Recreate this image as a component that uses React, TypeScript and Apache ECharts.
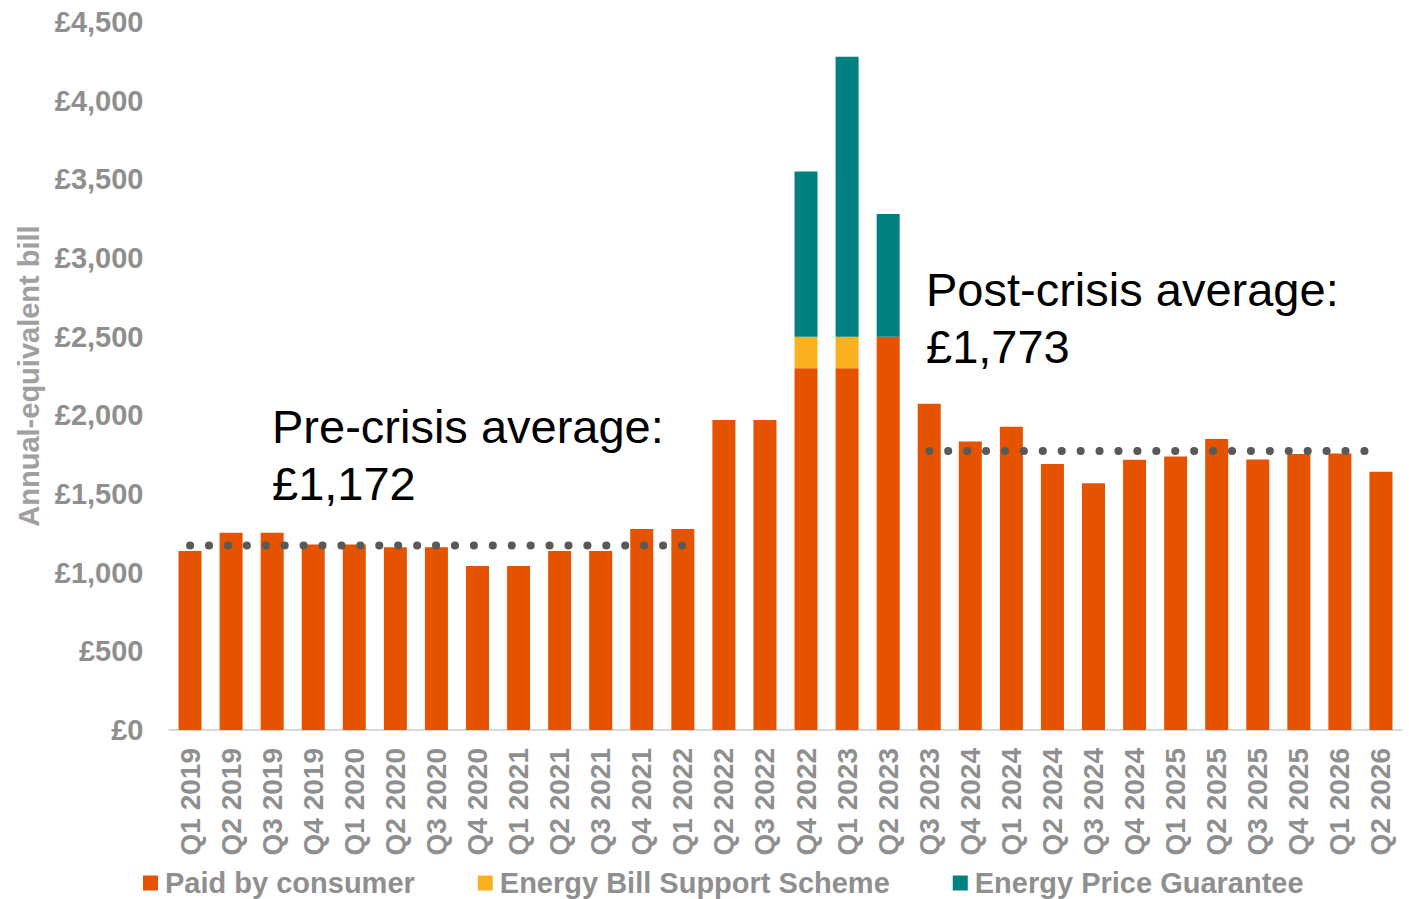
import React, { useEffect, useRef } from "react";
import * as echarts from "echarts";

const categories = [
  "Q1 2019", "Q2 2019", "Q3 2019", "Q4 2019",
  "Q1 2020", "Q2 2020", "Q3 2020", "Q4 2020",
  "Q1 2021", "Q2 2021", "Q3 2021", "Q4 2021",
  "Q1 2022", "Q2 2022", "Q3 2022", "Q4 2022",
  "Q1 2023", "Q2 2023", "Q3 2023", "Q4 2024",
  "Q1 2024", "Q2 2024", "Q3 2024", "Q4 2024",
  "Q1 2025", "Q2 2025", "Q3 2025", "Q4 2025",
  "Q1 2026", "Q2 2026",
];

const paidByConsumer = [
  1137, 1254, 1254, 1179, 1179, 1162, 1162, 1042, 1042, 1138, 1138, 1277,
  1277, 1971, 1971, 2300, 2300, 2500, 2074, 1834, 1928, 1690, 1568, 1717,
  1738, 1849, 1720, 1755, 1758, 1641,
];

const energyBillSupport = [
  0, 0, 0, 0, 0, 0, 0, 0, 0, 0, 0, 0,
  0, 0, 0, 200, 200, 0, 0, 0, 0, 0, 0, 0,
  0, 0, 0, 0, 0, 0,
];

const energyPriceGuarantee = [
  0, 0, 0, 0, 0, 0, 0, 0, 0, 0, 0, 0,
  0, 0, 0, 1049, 1779, 780, 0, 0, 0, 0, 0, 0,
  0, 0, 0, 0, 0, 0,
];

const preCrisisAverage = 1172;
const postCrisisAverage = 1773;
const preCrisisRange = [0, 12];
const postCrisisRange = [18, 29];

const yTicks = { min: 0, max: 4500, interval: 500 };

const FONT = "'Liberation Sans', Arial, sans-serif";
const GREY = "#8f8f8f";

function averageLine(value: number, range: number[]) {
  return categories.map((_, i) => (i >= range[0] && i <= range[1] ? value : null));
}

export default function App() {
  const ref = useRef<HTMLDivElement>(null);

  useEffect(() => {
    if (!ref.current) return;
    const chart = echarts.init(ref.current, undefined, { renderer: "svg" });
    const dotted = {
      color: "#595959",
      width: 8,
      type: [0.1, 18.82],
      cap: "round",
    };
    chart.setOption({
      animation: false,
      textStyle: { fontFamily: FONT },
      grid: { left: 169.5, right: 7.5, top: 22, bottom: 169, containLabel: false },
      legend: {
        data: ["Paid by consumer", "Energy Bill Support Scheme", "Energy Price Guarantee"],
        left: 143,
        top: 866,
        padding: 0,
        icon: "rect",
        itemWidth: 15,
        itemHeight: 15,
        itemGap: 63,
        textStyle: {
          color: GREY,
          fontSize: 29,
          lineHeight: 34,
          fontWeight: "bold",
          fontFamily: FONT,
          padding: [0, 0, 0, 2],
        },
      },
      xAxis: {
        type: "category",
        data: categories,
        axisLine: { lineStyle: { color: "#d9d9d9", width: 2 } },
        axisTick: { show: false },
        axisLabel: {
          rotate: 90,
          interval: 0,
          margin: 18,
          color: GREY,
          fontSize: 28,
          fontWeight: "bold",
          fontFamily: FONT,
        },
      },
      yAxis: {
        type: "value",
        min: yTicks.min,
        max: yTicks.max,
        interval: yTicks.interval,
        name: "Annual-equivalent bill",
        nameLocation: "middle",
        nameGap: 125,
        nameTextStyle: { color: "#a0a0a0", fontSize: 29, fontWeight: "bold", fontFamily: FONT },
        splitLine: { show: false },
        axisLine: { show: false },
        axisTick: { show: false },
        axisLabel: {
          margin: 26,
          color: GREY,
          fontSize: 29,
          fontWeight: "bold",
          fontFamily: FONT,
          formatter: (v: number) => "£" + v.toLocaleString("en-GB"),
        },
      },
      series: [
        {
          name: "Paid by consumer",
          type: "bar",
          stack: "bill",
          data: paidByConsumer,
          barWidth: "56%",
          itemStyle: { color: "#E55300" },
        },
        {
          name: "Energy Bill Support Scheme",
          type: "bar",
          stack: "bill",
          data: energyBillSupport,
          itemStyle: { color: "#F9B121" },
        },
        {
          name: "Energy Price Guarantee",
          type: "bar",
          stack: "bill",
          data: energyPriceGuarantee,
          itemStyle: { color: "#008080" },
        },
        {
          name: "Pre-crisis average",
          type: "line",
          data: averageLine(preCrisisAverage, preCrisisRange),
          symbol: "none",
          lineStyle: dotted,
          z: 5,
        },
        {
          name: "Post-crisis average",
          type: "line",
          data: averageLine(postCrisisAverage, postCrisisRange),
          symbol: "none",
          lineStyle: dotted,
          z: 5,
        },
      ],
      graphic: [
        {
          type: "text",
          left: 272,
          top: 398,
          style: {
            text: "Pre-crisis average:\n£1,172",
            fill: "#000",
            font: `47px ${FONT}`,
            lineHeight: 57,
          },
        },
        {
          type: "text",
          left: 926,
          top: 261,
          style: {
            text: "Post-crisis average:\n£1,773",
            fill: "#000",
            font: `47px ${FONT}`,
            lineHeight: 57,
          },
        },
      ],
    });
    return () => chart.dispose();
  }, []);

  return (
    <div
      ref={ref}
      style={{ position: "absolute", left: 0, top: 0, width: 1409, height: 899 }}
    />
  );
}
